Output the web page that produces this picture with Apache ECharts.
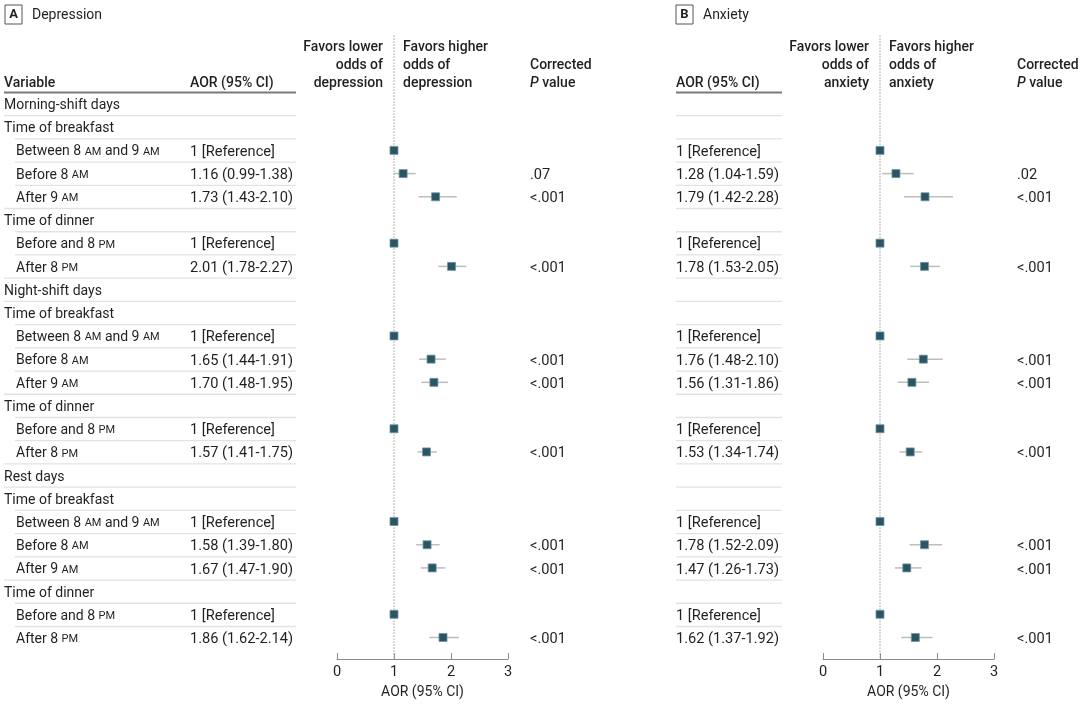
<!DOCTYPE html>
<html><head><meta charset="utf-8">
<script src="https://cdn.jsdelivr.net/npm/echarts@6/dist/echarts.min.js"></script>
<style>html,body{margin:0;padding:0;background:#fff}#c{width:1080px;height:704px}</style>
</head><body><div id="c"></div>
<script>
const rowLabels = [
  'Morning-shift days','Time of breakfast','Between 8 AM and 9 AM','Before 8 AM','After 9 AM','Time of dinner','Before and 8 PM','After 8 PM',
  'Night-shift days','Time of breakfast','Between 8 AM and 9 AM','Before 8 AM','After 9 AM','Time of dinner','Before and 8 PM','After 8 PM',
  'Rest days','Time of breakfast','Between 8 AM and 9 AM','Before 8 AM','After 9 AM','Time of dinner','Before and 8 PM','After 8 PM'
];
const rowIndent = [0,0,1,1,1,0,1,1, 0,0,1,1,1,0,1,1, 0,0,1,1,1,0,1,1];

const depAOR  = [null,null,1,1.16,1.73,null,1,2.01, null,null,1,1.65,1.70,null,1,1.57, null,null,1,1.58,1.67,null,1,1.86];
const depLow  = [null,null,null,0.99,1.43,null,null,1.78, null,null,null,1.44,1.48,null,null,1.41, null,null,null,1.39,1.47,null,null,1.62];
const depHigh = [null,null,null,1.38,2.10,null,null,2.27, null,null,null,1.91,1.95,null,null,1.75, null,null,null,1.80,1.90,null,null,2.14];
const depP    = ['','','','.07','<.001','','','<.001', '','','','<.001','<.001','','','<.001', '','','','<.001','<.001','','','<.001'];

const anxAOR  = [null,null,1,1.28,1.79,null,1,1.78, null,null,1,1.76,1.56,null,1,1.53, null,null,1,1.78,1.47,null,1,1.62];
const anxLow  = [null,null,null,1.04,1.42,null,null,1.53, null,null,null,1.48,1.31,null,null,1.34, null,null,null,1.52,1.26,null,null,1.37];
const anxHigh = [null,null,null,1.59,2.28,null,null,2.05, null,null,null,2.10,1.86,null,null,1.74, null,null,null,2.09,1.73,null,null,1.92];
const anxP    = ['','','','.02','<.001','','','<.001', '','','','<.001','<.001','','','<.001', '','','','<.001','<.001','','','<.001'];

const xTicks = [0, 1, 2, 3];

const FONT = 'Roboto';
const TXT = '#231f20';
const SEP = '#e3e3dc';
const HDR = '#7a7a7a';
const FS = 14;
const NFS = 14.6;
const DY = 1.5;

function aorText(a, l, h) {
  if (a == null) return '';
  if (l == null) return '1 [Reference]';
  return a.toFixed(2) + ' (' + l.toFixed(2) + '-' + h.toFixed(2) + ')';
}
function sc(s) { return s.replace(/\b(AM|PM)\b/g, '{sc|$1}'); }
const rich = { sc: { fontSize: 11, fontFamily: FONT, fill: TXT, verticalAlign: 'middle' } };

function txt(x, y, s, extra) {
  return { type: 'text', x: x, y: y + DY, silent: true,
    style: Object.assign({ text: s, fill: TXT, fontFamily: FONT, fontSize: FS, verticalAlign: 'middle', align: 'left', rich: rich }, extra || {}) };
}
function hline(x1, x2, y, color, w) {
  return { type: 'line', silent: true, shape: { x1: x1, y1: y, x2: x2, y2: y }, style: { stroke: color, lineWidth: w } };
}

const rowIdx = rowLabels.map((_, i) => i);
const G = { top: 92.4, height: 557.3 };
const grids = [
  { left: 4, width: 292 },    // 0 left table
  { left: 337, width: 171 },  // 1 dep forest
  { left: 530, width: 60 },   // 2 dep P
  { left: 676, width: 106 },  // 3 anx AOR
  { left: 823, width: 171 },  // 4 anx forest
  { left: 1017, width: 60 }   // 5 anx P
].map(g => Object.assign({ top: G.top, height: G.height }, g));

const xAxes = grids.map((g, k) => {
  if (k === 1 || k === 4) {
    return { type: 'value', gridIndex: k, min: xTicks[0], max: xTicks[xTicks.length - 1], interval: 1, offset: 10,
      axisLine: { show: true, lineStyle: { color: '#8a8a8a', width: 1 } },
      axisTick: { show: true, inside: true, length: 6, lineStyle: { color: '#8a8a8a' } },
      splitLine: { show: false },
      axisLabel: { fontFamily: FONT, fontSize: NFS, color: TXT, margin: 6 },
      name: 'AOR (95% CI)', nameLocation: 'middle', nameGap: 25,
      nameTextStyle: { fontFamily: FONT, fontSize: FS, color: TXT } };
  }
  return { type: 'value', gridIndex: k, min: 0, max: 1, show: false };
});
const yAxes = grids.map((g, k) => ({ type: 'category', gridIndex: k, data: rowIdx, inverse: true, show: false }));

function leftTableRender(params, api) {
  const i = api.value(1), cs = params.coordSys;
  const y = api.coord([0, i])[1], band = api.size([0, 1])[1];
  const ch = [];
  if (i === 0) ch.push(hline(cs.x, cs.x + cs.width, cs.y, HDR, 2));
  ch.push(txt(cs.x + (rowIndent[i] ? 12 : 0), y, sc(rowLabels[i])));
  ch.push(txt(cs.x + 186, y, aorText(depAOR[i], depLow[i], depHigh[i]), { fontSize: NFS }));
  if (i < rowLabels.length - 1) ch.push(hline(cs.x + (rowIndent[i + 1] ? 11 : 0), cs.x + cs.width, y + band / 2, SEP, 1.3));
  return { type: 'group', children: ch };
}
function rightTableRender(params, api) {
  const i = api.value(1), cs = params.coordSys;
  const y = api.coord([0, i])[1], band = api.size([0, 1])[1];
  const ch = [];
  if (i === 0) ch.push(hline(cs.x, cs.x + cs.width, cs.y, HDR, 2));
  ch.push(txt(cs.x, y, aorText(anxAOR[i], anxLow[i], anxHigh[i]), { fontSize: NFS }));
  if (i < rowLabels.length - 1) ch.push(hline(cs.x, cs.x + cs.width, y + band / 2, SEP, 1.3));
  return { type: 'group', children: ch };
}
function pRender(arr) {
  return function (params, api) {
    const i = api.value(1), cs = params.coordSys;
    const y = api.coord([0, i])[1];
    return txt(cs.x, y, arr[i], { fontSize: NFS });
  };
}
function ciRender(params, api) {
  const i = api.value(1);
  const a = api.coord([api.value(2), i]), b = api.coord([api.value(3), i]);
  return { type: 'line', shape: { x1: a[0], y1: a[1], x2: b[0], y2: b[1] }, style: { stroke: '#bdbdbd', lineWidth: 1.5 } };
}
function refRender(params, api) {
  const cs = params.coordSys;
  const p = api.coord([api.value(0), 0]);
  return { type: 'line', shape: { x1: p[0], y1: cs.y - 57, x2: p[0], y2: cs.y + cs.height + 10 },
    style: { stroke: '#9a9a9a', lineWidth: 1, lineDash: [1.5, 1.5] } };
}

function forestSeries(k, aor, low, high) {
  const ci = [], pts = [];
  aor.forEach((v, i) => {
    if (v == null) return;
    pts.push([v, i]);
    if (low[i] != null) ci.push([v, i, low[i], high[i]]);
  });
  return [
    { type: 'custom', xAxisIndex: k, yAxisIndex: k, data: [[1, 0]], renderItem: refRender, z: 1, silent: true },
    { type: 'custom', xAxisIndex: k, yAxisIndex: k, data: ci, renderItem: ciRender, z: 2, silent: true,
      encode: { x: [0, 2, 3], y: 1 } },
    { type: 'scatter', xAxisIndex: k, yAxisIndex: k, data: pts, symbol: 'rect', symbolSize: 8, z: 3, silent: true,
      itemStyle: { color: '#2b5563', borderColor: '#6f95a1', borderWidth: 0.8, opacity: 1 } }
  ];
}

const tableData = rowIdx.map(i => [0, i]);
const series = [
  { type: 'custom', xAxisIndex: 0, yAxisIndex: 0, data: tableData, renderItem: leftTableRender, silent: true },
  ...forestSeries(1, depAOR, depLow, depHigh),
  { type: 'custom', xAxisIndex: 2, yAxisIndex: 2, data: tableData, renderItem: pRender(depP), silent: true },
  { type: 'custom', xAxisIndex: 3, yAxisIndex: 3, data: tableData, renderItem: rightTableRender, silent: true },
  ...forestSeries(4, anxAOR, anxLow, anxHigh),
  { type: 'custom', xAxisIndex: 5, yAxisIndex: 5, data: tableData, renderItem: pRender(anxP), silent: true }
];

function gtxt(x, y, s, extra) {
  return { type: 'text', x: x, y: y + DY, silent: true,
    style: Object.assign({ text: s, fill: TXT, fontFamily: FONT, fontSize: FS, verticalAlign: 'middle', align: 'left' }, extra || {}) };
}
const BW = 500;
function panelHeader(x, letter, title, favorX, subj) {
  return [
    { type: 'rect', x: x, y: 5, silent: true, shape: { x: 0, y: 0, width: 17, height: 19 }, style: { fill: '#fff', stroke: '#555', lineWidth: 1 } },
    gtxt(x + 8.5, 13.5, letter, { align: 'center', fontWeight: 'bold', fontSize: 13 }),
    gtxt(x + 27, 13.5, title),
    gtxt(favorX - 11, 46, 'Favors lower', { align: 'right', fontWeight: BW }),
    gtxt(favorX - 11, 64, 'odds of', { align: 'right', fontWeight: BW }),
    gtxt(favorX - 11, 82, subj, { align: 'right', fontWeight: BW }),
    gtxt(favorX + 9, 46, 'Favors higher', { fontWeight: BW }),
    gtxt(favorX + 9, 64, 'odds of', { fontWeight: BW }),
    gtxt(favorX + 9, 82, subj, { fontWeight: BW })
  ];
}
const italicP = { i: { fontStyle: 'italic', fontWeight: BW, fontFamily: FONT, fontSize: FS, fill: TXT } };
const graphics = [
  ...panelHeader(5, 'A', 'Depression', 394, 'depression'),
  gtxt(4, 82, 'Variable', { fontWeight: BW }),
  gtxt(190, 82, 'AOR (95% CI)', { fontWeight: BW }),
  gtxt(530, 64, 'Corrected', { fontWeight: BW }),
  gtxt(530, 82, '{i|P} value', { fontWeight: BW, rich: italicP }),
  ...panelHeader(676, 'B', 'Anxiety', 880, 'anxiety'),
  gtxt(676, 82, 'AOR (95% CI)', { fontWeight: BW }),
  gtxt(1017, 64, 'Corrected', { fontWeight: BW }),
  gtxt(1017, 82, '{i|P} value', { fontWeight: BW, rich: italicP })
];

const chart = echarts.init(document.getElementById('c'), null, { renderer: 'canvas' });
chart.setOption({
  backgroundColor: '#fff',
  animation: false,
  grid: grids,
  xAxis: xAxes,
  yAxis: yAxes,
  series: series,
  graphic: { elements: graphics }
});
</script>
</body></html>
